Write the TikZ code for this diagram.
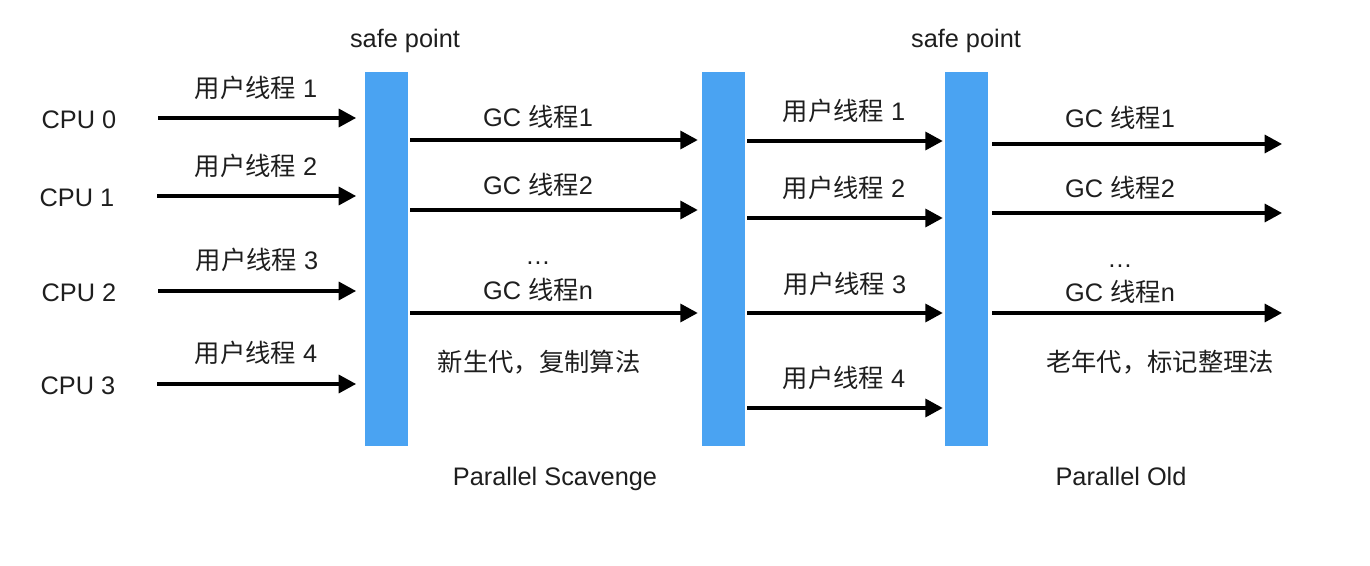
\documentclass[tikz,border=0pt]{standalone}
\usepackage{fontspec}
\setmainfont{Liberation Sans}
\newfontfamily\cjk{Noto Sans CJK SC}
\usetikzlibrary{arrows.meta}
\definecolor{barblue}{RGB}{74,163,242}
\definecolor{txt}{RGB}{30,30,30}
\newcommand\zh[1]{{\cjk #1}}
\begin{document}
\begin{tikzpicture}[x=0.75pt,y=-0.75pt,
  lbl/.style={inner sep=0pt,text=txt,font=\fontsize{19}{23}\selectfont,text height=13.6pt,text depth=0pt},
  bar/.style={fill=barblue,draw=none,inner sep=0pt,minimum width=32.25pt,minimum height=280.5pt},
  arr/.style={line width=2.4pt,-{Triangle[length=13pt,width=13.5pt]}}]
\useasboundingbox (0,0) rectangle (1370,566);
% bars
\node[bar] (b1) at (386.5,259) {};
\node[bar] (b2) at (723.5,259) {};
\node[bar] (b3) at (966.5,259) {};
% headings
\node[lbl] (sp1) at (405,38) {safe point};
\node[lbl] (sp2) at (966,38) {safe point};
\node[lbl] (ps) at (555,476) {Parallel Scavenge};
\node[lbl] (po) at (1121,476) {Parallel Old};
% CPU labels
\node[lbl] (c0) at (79,119) {CPU 0};
\node[lbl] (c1) at (77,197) {CPU 1};
\node[lbl] (c2) at (79,292) {CPU 2};
\node[lbl] (c3) at (78,385) {CPU 3};
% left user threads
\node[lbl] (u1) at (256,88) {\zh{用户线程} 1};
\node[lbl] (u2) at (256,166) {\zh{用户线程} 2};
\node[lbl] (u3) at (257,260) {\zh{用户线程} 3};
\node[lbl] (u4) at (256,353) {\zh{用户线程} 4};
\coordinate (s0) at (158,118);
\coordinate (s1) at (157,196);
\coordinate (s2) at (158,291);
\coordinate (s3) at (157,384);
\foreach \s in {s0,s1,s2,s3}
  \draw[arr,shorten >=6.5pt] (\s) -- (b1.west |- \s);
% GC young
\node[lbl] (g1) at (538,117) {GC \zh{线程}1};
\node[lbl] (g2) at (538,185) {GC \zh{线程}2};
\node[lbl] (gd) at (538,255) {…};
\node[lbl] (gn) at (538,290) {GC \zh{线程}n};
\node[lbl] (young) at (539,362) {\zh{新生代，复制算法}};
\foreach \yy in {140,210,313}
  \draw[arr,shorten <=1.5pt,shorten >=3pt] (b1.east |- 0,\yy) -- (b2.west |- 0,\yy);
% middle user threads
\node[lbl] (m1) at (844,111) {\zh{用户线程} 1};
\node[lbl] (m2) at (844,188) {\zh{用户线程} 2};
\node[lbl] (m3) at (845,284) {\zh{用户线程} 3};
\node[lbl] (m4) at (844,378) {\zh{用户线程} 4};
\foreach \yy in {141,218,313,408}
  \draw[arr,shorten <=1.5pt,shorten >=1.5pt] (b2.east |- 0,\yy) -- (b3.west |- 0,\yy);
% GC old
\node[lbl] (h1) at (1120,118) {GC \zh{线程}1};
\node[lbl] (h2) at (1120,188) {GC \zh{线程}2};
\node[lbl] (hd) at (1120,258) {…};
\node[lbl] (hn) at (1120,292) {GC \zh{线程}n};
\node[lbl] (old) at (1160,362) {\zh{老年代，标记整理法}};
\coordinate (e1) at (1282,144);
\coordinate (e2) at (1282,213);
\coordinate (e3) at (1282,313);
\foreach \e in {e1,e2,e3}
  \draw[arr,shorten <=3pt] (b3.east |- \e) -- (\e);
\end{tikzpicture}
\end{document}
